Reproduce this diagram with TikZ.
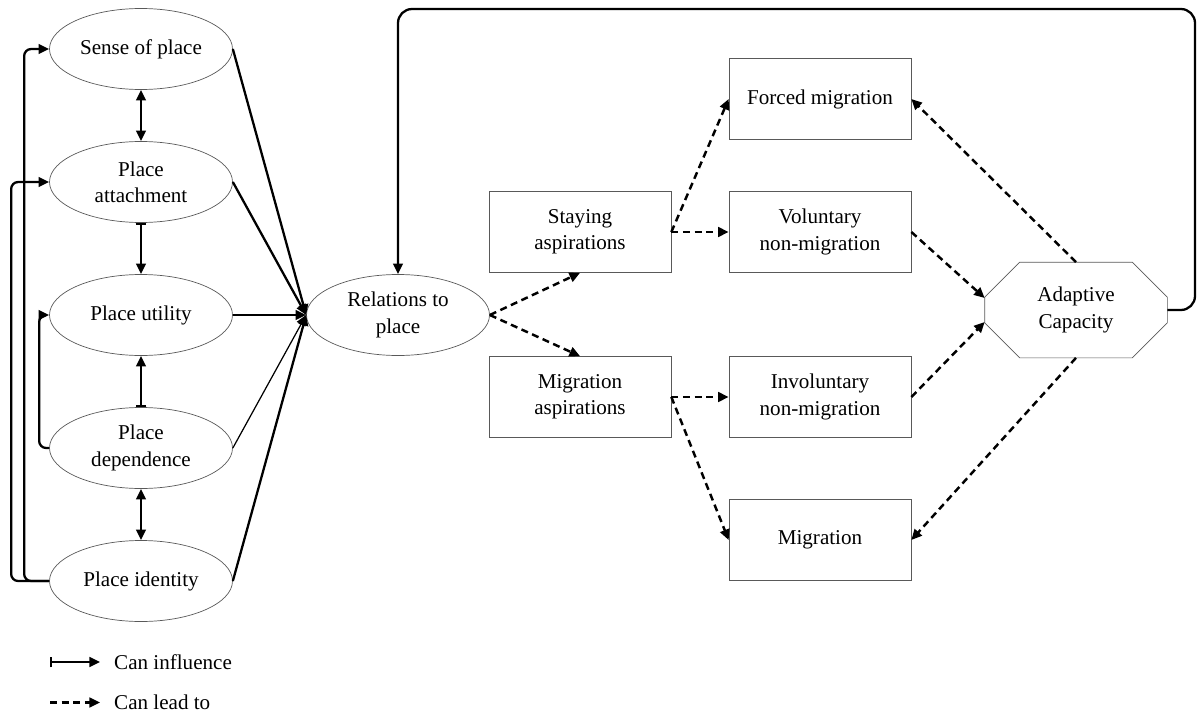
\documentclass[tikz,border=0pt]{standalone}
\usepackage{fontspec}
\setmainfont{Liberation Serif}
\usetikzlibrary{positioning,shapes,arrows.meta,calc}

\begin{document}
\begin{tikzpicture}[
  node distance=1cm and 1cm, on grid,
  font=\fontsize{12}{15}\selectfont,
  place/.style={draw=black!65,ellipse,align=center,minimum width=3.66cm,minimum height=1.62cm,inner sep=0pt},
  box/.style={draw=black!65,rectangle,align=center,minimum width=3.64cm,minimum height=1.62cm},
  infl/.style={line width=1.3pt,-{Triangle[length=6pt,width=5.5pt]}},
  both/.style={infl,{Triangle[length=6pt,width=5.5pt]}-{Triangle[length=6pt,width=5.5pt]}},
  barred/.style={infl,{Bar[width=6pt]}-{Triangle[length=6pt,width=5.5pt]}},
  lead/.style={line width=1.4pt,dash pattern=on 4pt off 2.6pt,-{Triangle[length=6pt,width=5.5pt]}}
]
\useasboundingbox (0,0) rectangle (23.96,-14.32);
\node[place] (RP) at (7.96,-6.3) {Relations to\\place};
\node[place,left=5.14cm of RP] (PU) {Place utility};
\node[place,above=2.66cm of PU] (PA) {Place\\attachment};
\node[place,above=2.66cm of PA] (SP) {Sense of place};
\node[place,below=2.66cm of PU] (PD) {Place\\dependence};
\node[place,below=2.66cm of PD] (PI) {Place identity};
\node[box,above right=1.66cm and 3.64cm of RP] (SA) {Staying\\aspirations};
\node[box,below right=1.64cm and 3.64cm of RP] (MA) {Migration\\aspirations};
\node[box,right=4.8cm of SA] (VN) {Voluntary\\non-migration};
\node[box,above=2.66cm of VN] (FM) {Forced migration};
\node[box,right=4.8cm of MA] (IN) {Involuntary\\non-migration};
\node[box,below=2.86cm of IN] (MG) {Migration};
\node[align=center,minimum width=3.64cm,minimum height=1.9cm,above right=0.1cm and 13.56cm of RP] (AC) {Adaptive\\Capacity};
% octagon round AC
\draw[black!65] ($(AC.north west)+(0.7,0)$) -- ($(AC.north east)+(-0.7,0)$) -- ($(AC.north east)+(0,-0.7)$)
  -- ($(AC.south east)+(0,0.7)$) -- ($(AC.south east)+(-0.7,0)$) -- ($(AC.south west)+(0.7,0)$)
  -- ($(AC.south west)+(0,0.7)$) -- ($(AC.north west)+(0,-0.7)$) -- cycle;
\coordinate (ACa) at ($(AC.west)+(0,0.24)$);
\coordinate (ACb) at ($(AC.west)+(0,-0.24)$);
\coordinate (loop) at (23.9,-0.18);

\path (SP.east) edge[infl] (RP.west)
(PA.east) edge[infl] (RP.west)
(PU.east) edge[infl] (RP.west)
(PD.east) edge[infl,line width=0.7pt] (RP.west)
(PI.east) edge[infl] (RP.west);
\path (SP.south) edge[both] (PA.north)
(PA.south) edge[barred] (PU.north)
(PD.north) edge[barred] (PU.south)
(PD.south) edge[both] (PI.north);
\draw[infl,rounded corners=4pt] (PI.west) -- ++(-0.5,0) |- (SP.west);
\draw[infl,rounded corners=4pt] (PI.west) -- ++(-0.76,0) |- (PA.west);
\draw[infl,rounded corners=4pt] (PD.west) -- ++(-0.2,0) |- (PU.west);
\draw[infl,rounded corners=8pt] (AC.east) -| (loop) -| (RP.north);

\path (RP.east) edge[lead] (SA.south)
(RP.east) edge[lead] (MA.north)
(SA.east) edge[lead] (FM.west)
(SA.east) edge[lead] (VN.west)
(MA.east) edge[lead] (IN.west)
(MA.east) edge[lead] (MG.west)
(VN.east) edge[lead] (ACa)
(IN.east) edge[lead] (ACb)
(AC.north) edge[lead] (FM.east)
(AC.south) edge[lead] (MG.east);

% legend
\coordinate (L1) at (1.0,-13.24);
\coordinate[right=1.0cm of L1] (L1e);
\node[right=0.16cm of L1e,anchor=west] (T1) {Can influence};
\coordinate (L2) at (1.0,-14.05);
\coordinate[right=1.0cm of L2] (L2e);
\node[right=0.16cm of L2e,anchor=west] (T2) {Can lead to};
\draw[barred] (L1) -- (L1e);
\draw[lead] (L2) -- (L2e);
\end{tikzpicture}
\end{document}
